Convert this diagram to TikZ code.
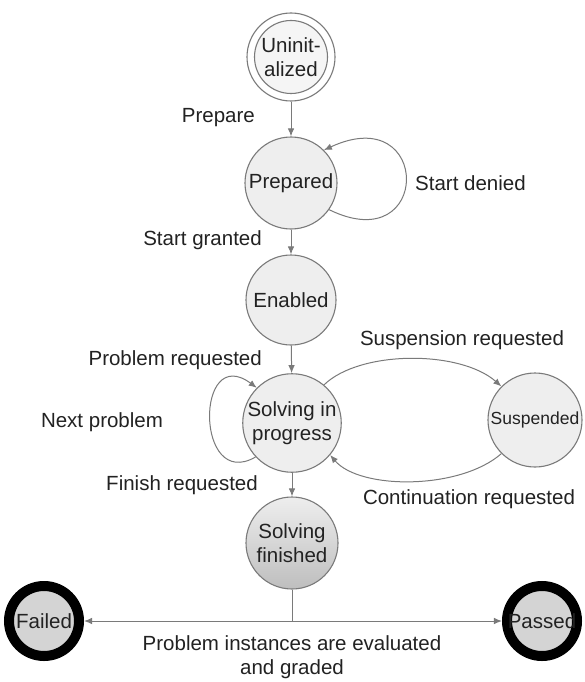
\documentclass[tikz,border=0pt]{standalone}
\usepackage{fontspec}
\setmainfont{Liberation Sans}
\usetikzlibrary{arrows.meta}
\definecolor{edgegray}{HTML}{7A7A7A}
\definecolor{statefill}{HTML}{EEEEEE}
\definecolor{finalfill}{HTML}{D4D4D4}
\definecolor{finmid}{HTML}{E2E2E2}
\definecolor{finbot}{HTML}{BEBEBE}
\definecolor{txt}{HTML}{222222}
\tikzset{
  state/.style={circle, draw=edgegray, line width=1.1pt, fill=statefill, minimum size=92pt, inner sep=0pt, align=center, text=txt, font=\fontsize{20.5}{24}\selectfont},
  finalst/.style={circle, draw=black, line width=10pt, fill=finalfill, minimum size=70pt, inner sep=0pt, text=txt, font=\fontsize{20.5}{24}\selectfont},
  lbl/.style={text=txt, font=\fontsize{20.5}{24}\selectfont, inner sep=0pt},
  arr/.style={draw=edgegray, line width=1pt, -{Latex[length=8pt,width=6.5pt]}},
  ln/.style={draw=edgegray, line width=1pt},
}
\begin{document}
\begin{tikzpicture}[x=1pt,y=-1pt]
\useasboundingbox (0,0) rectangle (584,682);
\fill[white] (0,0) rectangle (584,682);
% states
\node[circle, draw=edgegray, line width=1.1pt, fill=white, minimum size=88pt, inner sep=0pt] (uninitout) at (291,57) {};
\node[state, minimum size=73pt, fill=statefill!60] (uninit) at (291,57) {Uninit-\\alized};
\node[state] (prep) at (291,183) {Prepared};
\node[state, minimum size=90pt] (enab) at (291,300) {Enabled};
\node[state] (solv) at (292,423) {Solving in\\progress};
\node[state, minimum size=94pt, font=\fontsize{17.5}{21}\selectfont] (susp) at (535,420) {Suspended};
\node[state, top color=statefill, middle color=finmid, bottom color=finbot] (fin) at (292,543) {Solving\\finished};
\node[finalst] (failed) at (44,621) {Failed};
\node[finalst] (passed) at (542,621) {Passed};
% main chain
\draw[arr] (uninitout) -- (prep);
\draw[arr] (prep) -- (enab);
\draw[arr] (enab) -- (solv);
\draw[arr] (solv) -- (fin);
% self loops
\draw[arr] (prep.-35) .. controls (432,260) and (432,100) .. (prep.45);
\draw[arr] (solv.-137) .. controls (195,492) and (195,342) .. (solv.135);
% suspension
\draw[arr] (solv.50) .. controls (360,350) and (460,350) .. (susp.135);
\draw[arr] (susp.-135) .. controls (460,490) and (360,490) .. (solv.-40);
% evaluation
\coordinate (junc) at (292,621);
\draw[ln] (fin.south) -- (junc);
\draw[arr] (junc) -- (failed.east);
\draw[arr] (junc) -- (passed.west);
% labels
\node[lbl, anchor=east] (lprep) at (255,118) {Prepare};
\node[lbl, anchor=east] (lgrant) at (262,240) {Start granted};
\node[lbl, anchor=west] (ldeny) at (415,183) {Start denied};
\node[lbl, anchor=east] (lprob) at (262,360) {Problem requested};
\node[lbl] (lnext) at (102,422) {Next problem};
\node[lbl, anchor=east] (lfin) at (258,485) {Finish requested};
\node[lbl] (lsusp) at (462,340) {Suspension requested};
\node[lbl] (lcont) at (469,499) {Continuation requested};
\node[lbl, align=center] (leval) at (292,657) {Problem instances are evaluated\\and graded};
\end{tikzpicture}
\end{document}
